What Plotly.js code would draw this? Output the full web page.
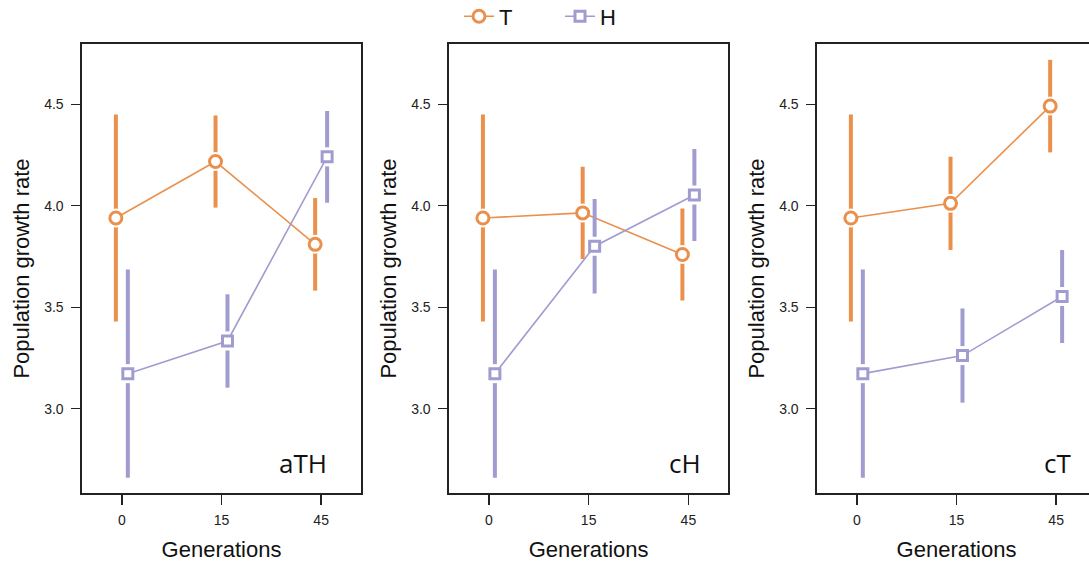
<!DOCTYPE html>
<html>
<head>
<meta charset="utf-8">
<script src="https://cdn.plot.ly/plotly-3.0.1.min.js"></script>
<style>
  html, body { margin: 0; padding: 0; overflow: hidden; background: #fff; }
  #chart { width: 1100px; height: 563px; }
</style>
</head>
<body>
<div id="chart"></div>
<script>
// ---- data ----
const generations = ['0', '15', '45'];
const panelLabels = ['aTH', 'cH', 'cT'];
const seriesNames = ['T', 'H'];

const tMean_aTH = [3.94, 4.218, 3.81];
const tErr_aTH  = [0.51, 0.227, 0.228];
const hMean_aTH = [3.173, 3.334, 4.241];
const hErr_aTH  = [0.513, 0.23, 0.226];

const tMean_cH = [3.94, 3.965, 3.76];
const tErr_cH  = [0.51, 0.227, 0.227];
const hMean_cH = [3.173, 3.801, 4.053];
const hErr_cH  = [0.513, 0.233, 0.227];

const tMean_cT = [3.94, 4.012, 4.491];
const tErr_cT  = [0.51, 0.23, 0.228];
const hMean_cT = [3.173, 3.262, 3.553];
const hErr_cT  = [0.513, 0.232, 0.229];

const yTicks = [3.0, 3.5, 4.0, 4.5];

// ---- styling ----
const ORANGE = '#EA904C';
const PURPLE = '#A19CD0';
const W = 1100, H = 563;
const panelsPx = [[82, 361], [449, 728.3], [817, 1096]];
const yDom = [(H - 493) / H, (H - 44) / H];
const labelX = [0.886, 0.911, 0.916];
const dodge = 0.06;

const panels = [
  {T: [tMean_aTH, tErr_aTH], H: [hMean_aTH, hErr_aTH]},
  {T: [tMean_cH, tErr_cH],   H: [hMean_cH, hErr_cH]},
  {T: [tMean_cT, tErr_cT],   H: [hMean_cT, hErr_cT]}
];

const traces = [];
panels.forEach((p, pi) => {
  const xa = pi === 0 ? 'x' : 'x' + (pi + 1);
  const ya = pi === 0 ? 'y' : 'y' + (pi + 1);
  seriesNames.forEach((s, si) => {
    const [mean, err] = p[s];
    const color = si === 0 ? ORANGE : PURPLE;
    const off = si === 0 ? -dodge : dodge;
    const xs = generations.map((g, i) => i + off);
    // error bars
    traces.push({
      type: 'scatter', mode: 'markers', x: xs, y: mean, xaxis: xa, yaxis: ya,
      marker: {size: 1, opacity: 0},
      error_y: {type: 'data', array: err, visible: true, color: color, thickness: 4, width: 0},
      showlegend: false, hoverinfo: 'skip'
    });
    // white halo
    traces.push({
      type: 'scatter', mode: 'markers', x: xs, y: mean, xaxis: xa, yaxis: ya,
      marker: {size: 19, color: '#ffffff', symbol: si === 0 ? 'circle' : 'square', line: {width: 0}},
      showlegend: false, hoverinfo: 'skip'
    });
    // line + markers
    traces.push({
      type: 'scatter', mode: 'lines+markers', name: s, x: xs, y: mean, xaxis: xa, yaxis: ya,
      line: {color: color, width: 1.6},
      marker: {size: si === 0 ? 12 : 10, symbol: si === 0 ? 'circle' : 'square', color: '#ffffff',
               line: {color: color, width: 3}},
      showlegend: pi === 0, legendgroup: s
    });
  });
});

const layout = {
  width: W, height: H,
  margin: {l: 0, r: 0, t: 0, b: 0, autoexpand: false},
  paper_bgcolor: '#fff', plot_bgcolor: '#fff',
  font: {family: 'Liberation Sans, Arial, sans-serif', color: '#111'},
  showlegend: true,
  legend: {orientation: 'h', x: 459 / W, xanchor: 'left', y: 1.008, yanchor: 'top',
           font: {size: 22, color: '#111'}, entrywidth: 56, entrywidthmode: 'pixels',
           bgcolor: 'rgba(0,0,0,0)'},
  annotations: [],
  hovermode: false
};

panelsPx.forEach((px, pi) => {
  const sfx = pi === 0 ? '' : String(pi + 1);
  layout['xaxis' + sfx] = {
    domain: [px[0] / W, px[1] / W], anchor: 'y' + sfx,
    range: [-0.4, 2.4], tickmode: 'array', tickvals: generations.map((g, i) => i), ticktext: generations,
    ticks: 'outside', ticklen: 10, tickwidth: 1.5, tickcolor: '#222', ticklabelstandoff: 4,
    showline: true, mirror: true, linecolor: '#222', linewidth: 1.6,
    showgrid: false, zeroline: false,
    tickfont: {size: 14, color: '#222'},
    title: {text: 'Generations', font: {size: 22, color: '#111'}, standoff: 14}
  };
  layout['yaxis' + sfx] = {
    domain: yDom, anchor: 'x' + sfx,
    range: [2.585, 4.797], tickmode: 'array', tickvals: yTicks, ticktext: yTicks.map(v => v.toFixed(1)),
    ticks: 'outside', ticklen: 9, tickwidth: 1, tickcolor: '#222', ticklabelstandoff: 5,
    showline: true, mirror: true, linecolor: '#222', linewidth: 1.6,
    showgrid: false, zeroline: false,
    tickfont: {size: 14, color: '#222'},
    title: {text: 'Population growth rate', font: {size: 22, color: '#111'}, standoff: 8}
  };
  layout.annotations.push({
    text: panelLabels[pi], xref: 'x' + sfx + ' domain', yref: 'y' + sfx + ' domain',
    x: labelX[pi], y: 0.066, xanchor: 'right', yanchor: 'middle', showarrow: false,
    font: {family: 'Open Sans, Noto Sans, sans-serif', size: 26, color: '#111'}
  });
});

Plotly.newPlot('chart', traces, layout, {displayModeBar: false, staticPlot: true});
</script>
</body>
</html>
